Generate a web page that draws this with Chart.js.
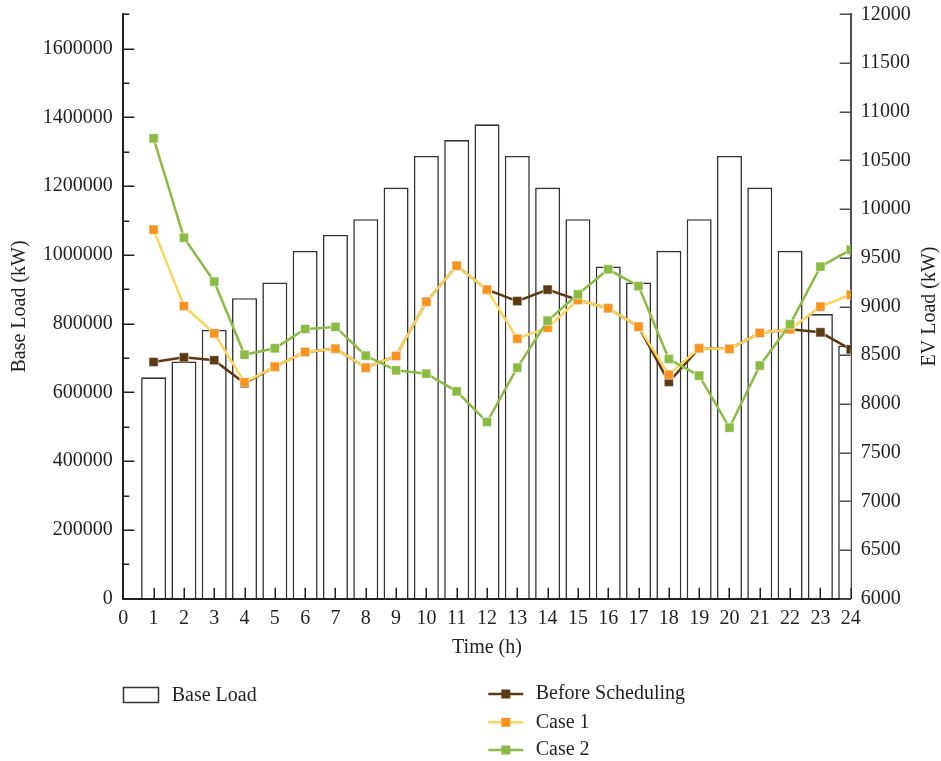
<!DOCTYPE html>
<html>
<head>
<meta charset="utf-8">
<title>Base Load and EV Load</title>
<script src="https://cdn.jsdelivr.net/npm/chart.js@4.4.0/dist/chart.umd.min.js"></script>
<style>
  html, body { margin: 0; padding: 0; background: #ffffff; }
  #wrap { position: relative; width: 941px; height: 761px; }
</style>
</head>
<body>
<div id="wrap"><canvas id="chart"></canvas></div>
<script>
// Hours of the day
const hours = [1, 2, 3, 4, 5, 6, 7, 8, 9, 10, 11, 12, 13, 14, 15, 16, 17, 18, 19, 20, 21, 22, 23, 24];

// Base load per hour (kW), left axis
const baseLoad = [644000, 690000, 782000, 874000, 920000, 1012000, 1058000, 1104000,
                  1196000, 1288000, 1334000, 1380000, 1288000, 1196000, 1104000, 966000,
                  920000, 1012000, 1104000, 1288000, 1196000, 1012000, 828000, 736000];

// EV charging load per hour (kW), right axis
const beforeScheduling = [8430, 8478, 8448, 8211, 8382, 8533, 8567, 8372,
                          8492, 9049, 9419, 9173, 9056, 9173, 9067, 8982,
                          8793, 8225, 8571, 8564, 8728, 8766, 8735, 8560];
const case1 = [9789, 9005, 8725, 8222, 8382, 8533, 8567, 8372,
               8492, 9049, 9419, 9173, 8669, 8782, 9067, 8982,
               8793, 8300, 8571, 8564, 8728, 8766, 8998, 9121];
const case2 = [10727, 9706, 9255, 8505, 8571, 8769, 8790, 8495,
               8345, 8310, 8129, 7814, 8372, 8854, 9125, 9382,
               9210, 8461, 8290, 7756, 8392, 8817, 9409, 9583];

// Axis titles and legend names
const xTitle = 'Time (h)';
const yTitle = 'Base Load (kW)';
const y1Title = 'EV Load (kW)';
const names = ['Base Load', 'Before Scheduling', 'Case 1', 'Case 2'];

const FONT = "'Liberation Serif', 'Times New Roman', serif";
const INK = '#231f20';

const pts = (vals) => hours.map((h, i) => ({ x: h, y: vals[i] }));

// Inward tick marks, axis titles and the legend block under the plot
const decorations = {
  id: 'decorations',
  afterDatasetsDraw(chart) {
    const { ctx, chartArea: a, scales: { x, y, y1 } } = chart;
    ctx.save();
    ctx.lineCap = 'butt';

    // left axis ticks (major every 200000, minor every 100000)
    ctx.strokeStyle = INK;
    ctx.lineWidth = 1.5;
    ctx.beginPath();
    y.ticks.forEach(t => {
      const py = Math.round(y.getPixelForValue(t.value)) + 0.25;
      const len = t.value % 200000 === 0 ? 11 : 6;
      ctx.moveTo(a.left, py);
      ctx.lineTo(a.left + len, py);
    });
    // bottom axis ticks
    x.ticks.forEach(t => {
      const px = Math.round(x.getPixelForValue(t.value)) + 0.25;
      ctx.moveTo(px, a.bottom);
      ctx.lineTo(px, a.bottom - 11);
    });
    ctx.stroke();

    // right axis ticks (major every 500, minor every 250)
    ctx.strokeStyle = '#4d4d4d';
    ctx.beginPath();
    y1.ticks.forEach(t => {
      const py = Math.round(y1.getPixelForValue(t.value)) + 0.25;
      const len = t.value % 500 === 0 ? 11 : 6;
      ctx.moveTo(a.right, py);
      ctx.lineTo(a.right - len, py);
    });
    ctx.stroke();

    // axis titles
    ctx.fillStyle = INK;
    ctx.font = '20px ' + FONT;
    ctx.textAlign = 'center';
    ctx.textBaseline = 'middle';
    const midY = (a.top + a.bottom) / 2;
    ctx.fillText(xTitle, (a.left + a.right) / 2, 648);
    ctx.save();
    ctx.translate(20, midY);
    ctx.rotate(-Math.PI / 2);
    ctx.fillText(yTitle, 0, 0);
    ctx.restore();
    ctx.save();
    ctx.translate(930, midY);
    ctx.rotate(-Math.PI / 2);
    ctx.fillText(y1Title, 0, 0);
    ctx.restore();

    // legend
    ctx.textAlign = 'left';
    ctx.textBaseline = 'alphabetic';
    const ds = chart.data.datasets;
    ctx.strokeStyle = '#333333';
    ctx.lineWidth = 1.5;
    ctx.strokeRect(123.5, 687.5, 35, 15);
    ctx.fillText(ds[0].label, 171.7, 700.7);

    const rows = [694, 722.3, 750];
    [1, 2, 3].forEach((k, r) => {
      const cy = rows[r];
      ctx.strokeStyle = ds[k].borderColor;
      ctx.lineWidth = 2.5;
      ctx.beginPath();
      ctx.moveTo(488.3, cy);
      ctx.lineTo(523.3, cy);
      ctx.stroke();
      ctx.fillStyle = ds[k].pointBackgroundColor;
      ctx.fillRect(505.8 - 4.5, cy - 4.5, 9, 9);
      ctx.fillStyle = INK;
      ctx.fillText(ds[k].label, 535.7, cy + 5.3);
    });
    ctx.restore();
  }
};

const lineSet = (label, vals, line, marker, order) => ({
  type: 'line',
  label,
  data: pts(vals),
  yAxisID: 'y1',
  borderColor: line,
  borderWidth: 2.5,
  pointStyle: 'rect',
  pointRadius: 6.5,
  pointBackgroundColor: marker,
  pointBorderColor: 'rgba(255,255,255,0.55)',
  pointBorderWidth: 1,
  tension: 0,
  order
});

// vertical axes: fixed widths, no extra room reserved above/below for end labels
const fitVertical = (width) => (s) => {
  s.width = width;
  s.paddingTop = 0;
  s.paddingBottom = 0;
};

new Chart(document.getElementById('chart'), {
  type: 'bar',
  data: {
    datasets: [
      {
        type: 'bar',
        label: names[0],
        data: pts(baseLoad),
        yAxisID: 'y',
        backgroundColor: '#ffffff',
        borderColor: '#333333',
        borderWidth: 1.6,
        categoryPercentage: 1,
        barPercentage: 0.825,
        order: 4
      },
      lineSet(names[1], beforeScheduling, '#5c3a16', '#5c3a16', 3),
      lineSet(names[2], case1, '#fdd55c', '#f7931e', 2),
      lineSet(names[3], case2, '#8cbb45', '#8cbb45', 1)
    ]
  },
  options: {
    responsive: true,
    maintainAspectRatio: false,
    animation: false,
    devicePixelRatio: 1,
    layout: { padding: { top: 14.3, left: 0, right: 0, bottom: 0 } },
    plugins: { legend: { display: false }, tooltip: { enabled: false } },
    font: { family: FONT },
    scales: {
      x: {
        type: 'linear',
        min: 0,
        max: 24,
        offset: false,
        grid: { display: true, offset: false, drawOnChartArea: false, drawTicks: false },
        border: { display: true, color: INK, width: 2 },
        ticks: { stepSize: 1, padding: 8, color: INK, font: { family: FONT, size: 20 }, maxRotation: 0, autoSkip: false },
        afterFit: s => { s.height = 761 - 598.7; s.paddingLeft = 0; s.paddingRight = 0; }
      },
      y: {
        type: 'linear',
        position: 'left',
        min: 0,
        max: 1700000,
        grid: { display: true, drawOnChartArea: false, drawTicks: false },
        border: { display: true, color: INK, width: 2 },
        ticks: {
          stepSize: 100000,
          padding: 10.5,
          color: INK,
          font: { family: FONT, size: 20 },
          callback: v => (v % 200000 === 0 ? String(v) : '')
        },
        afterFit: fitVertical(123.3)
      },
      y1: {
        type: 'linear',
        position: 'right',
        min: 6000,
        max: 12000,
        grid: { display: true, drawOnChartArea: false, drawTicks: false },
        border: { display: true, color: '#4d4d4d', width: 2 },
        ticks: {
          stepSize: 250,
          padding: 10,
          color: INK,
          font: { family: FONT, size: 20 },
          callback: v => (v % 500 === 0 ? String(v) : '')
        },
        afterFit: fitVertical(941 - 850.7)
      }
    }
  },
  plugins: [decorations]
});
</script>
</body>
</html>
